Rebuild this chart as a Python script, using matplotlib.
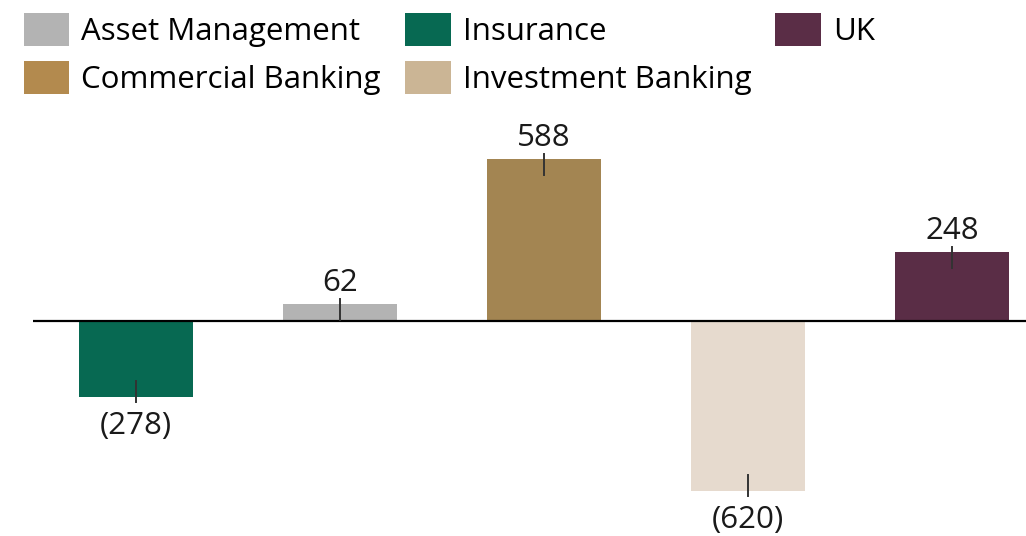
import matplotlib.pyplot as plt
from matplotlib.patches import Patch

# segment results
segments = ['Insurance', 'Asset Management', 'Commercial Banking', 'Investment Banking', 'UK']
values = [-278, 62, 588, -620, 248]
bar_colors = ['#076952', '#b3b3b3', '#a38552', '#e6dace', '#5a2d46']

# legend order and swatch colours (swatches differ a little from bars)
legend_labels = ['Asset Management', 'Commercial Banking', 'Insurance', 'Investment Banking', 'UK']
legend_colors = ['#b3b3b3', '#b38a4e', '#076952', '#cbb595', '#5a2d46']

plt.rcParams['font.family'] = ['Open Sans', 'DejaVu Sans']
FS = 22.5

W, H = 1026, 536
fig = plt.figure(figsize=(W / 100, H / 100), dpi=100)
ax = fig.add_axes([33 / W, 0, 1 - 33 / W, 426 / H])

x = list(range(len(segments)))
ax.bar(x, values, width=0.56, color=bar_colors, zorder=2)
ax.axhline(0, color='black', lw=1.6, zorder=3)

ax.set_xlim(-0.505, 4.363)
ax.set_ylim(-785, 767)
for s in ax.spines.values():
    s.set_visible(False)
ax.set_xticks([])
ax.set_yticks([])

# data units per pixel
upp = (767 + 785) / 426.0

for xi, v in zip(x, values):
    sg = 1 if v > 0 else -1
    ax.plot([xi, xi], [v + sg * 5 * upp, v - sg * 16 * upp], color='#333333', lw=1.4, zorder=4)
    txt = f'{v}' if v > 0 else f'({-v})'
    off = 21 if v > 0 else -29
    ax.annotate(txt, (xi, v), xytext=(0, off * 0.72), textcoords='offset points',
                ha='center', va='center', fontsize=FS, color='#1a1a1a')

handles = [Patch(facecolor=c, edgecolor='none') for c in legend_colors]
fig.legend(handles, legend_labels, ncol=3, loc='upper left', bbox_to_anchor=(11 / W, 1),
           frameon=False, fontsize=FS, handlelength=1.47, handleheight=1.25,
           handletextpad=0.38, columnspacing=0.77, labelspacing=0.45, borderaxespad=0)

fig.savefig('out.png', dpi=100)
